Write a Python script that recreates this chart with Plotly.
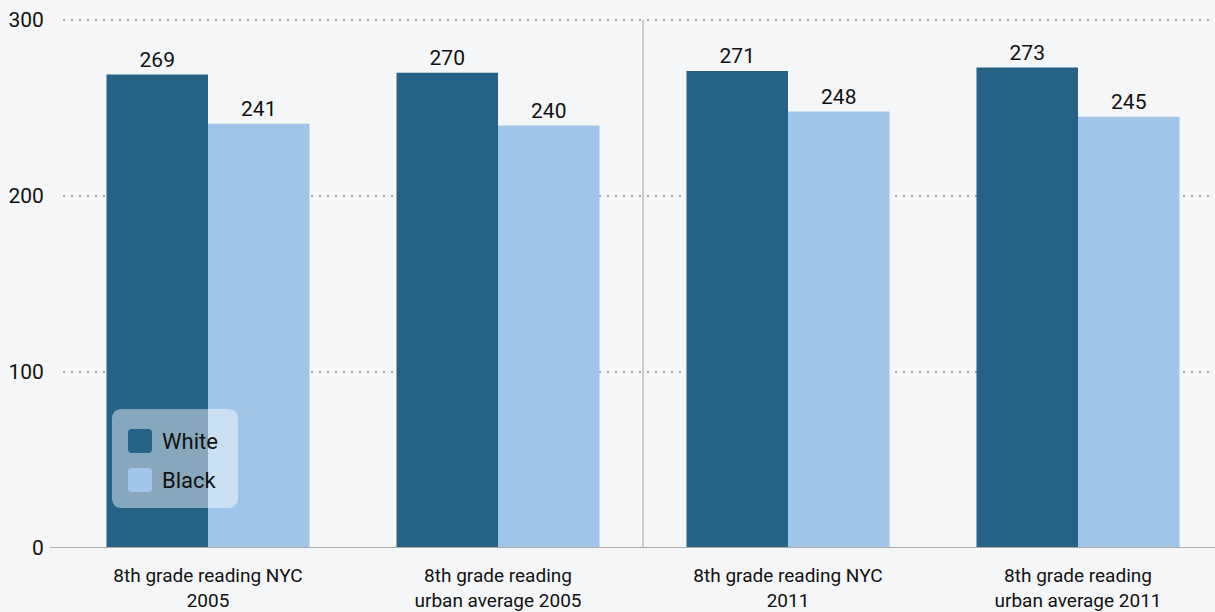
import plotly.graph_objects as go

categories = [
    "8th grade reading NYC<br>2005",
    "8th grade reading<br>urban average 2005",
    "8th grade reading NYC<br>2011",
    "8th grade reading<br>urban average 2011",
]
series_names = ["White", "Black"]
white_values = [269, 270, 271, 273]
black_values = [241, 240, 248, 245]
y_ticks = [0, 100, 200, 300]

W, H = 1215, 612
L, R, T, B = 63, 0, 2, 64
PW, PH = W - L - R, H - T - B
BG = "#f5f6f8"
C_WHITE = "#266285"
C_BLACK = "#9fc5e8"
FONT = "Roboto, Open Sans, sans-serif"

def px(x):
    return (x - L) / PW

def py(y):
    return (H - B - y) / PH

def rounded_path(x0, y0, x1, y1, r):
    def P(x, y):
        return f"{px(x):.5f},{py(y):.5f}"
    return (f"M{P(x0 + r, y0)} L{P(x1 - r, y0)} Q{P(x1, y0)} {P(x1, y0 + r)} "
            f"L{P(x1, y1 - r)} Q{P(x1, y1)} {P(x1 - r, y1)} L{P(x0 + r, y1)} "
            f"Q{P(x0, y1)} {P(x0, y1 - r)} L{P(x0, y0 + r)} Q{P(x0, y0)} {P(x0 + r, y0)} Z")

x_idx = list(range(len(categories)))

fig = go.Figure()
for name, vals, col in [(series_names[0], white_values, C_WHITE),
                        (series_names[1], black_values, C_BLACK)]:
    fig.add_trace(go.Bar(
        x=x_idx, y=vals, name=name, marker=dict(color=col, line=dict(width=0)),
        text=vals, textposition="outside", cliponaxis=False,
        textfont=dict(family=FONT, size=21, color="#111"),
        showlegend=False,
    ))

shapes = [
    dict(type="line", xref="x", yref="y", x0=1.5, x1=1.5, y0=0, y1=300,
         line=dict(color="#cccccc", width=2), layer="below"),
    dict(type="line", xref="paper", yref="y", x0=px(50), x1=1, y0=0, y1=0,
         line=dict(color="#aaaaaa", width=2), layer="above"),
    dict(type="path", xref="paper", yref="paper",
         path=rounded_path(112, 409, 238, 508, 10),
         fillcolor="rgba(255,255,255,0.45)", line=dict(width=0), layer="above"),
]
annotations = []
for i, (name, col) in enumerate(zip(series_names, [C_WHITE, C_BLACK])):
    y0 = 429 + i * 39
    shapes.append(dict(type="path", xref="paper", yref="paper",
                       path=rounded_path(128, y0, 152, y0 + 24, 4),
                       fillcolor=col, line=dict(width=0), layer="above"))
    annotations.append(dict(xref="paper", yref="paper", x=px(160), y=py(y0 + 12),
                            text=name, showarrow=False, xanchor="left", yanchor="middle",
                            font=dict(family=FONT, size=22, color="#111")))

fig.update_layout(
    width=W, height=H,
    margin=dict(l=L, r=R, t=T, b=B, autoexpand=False),
    paper_bgcolor=BG, plot_bgcolor=BG,
    barmode="group", bargap=0.3, bargroupgap=0,
    font=dict(family=FONT, size=21, color="#111"),
    shapes=shapes, annotations=annotations,
    showlegend=False,
)
fig.update_xaxes(
    tickmode="array", tickvals=x_idx, ticktext=categories, automargin=False,
    range=[-0.5, -0.5 + PW / 290], showgrid=False, zeroline=False,
    showline=False, ticks="outside", ticklen=10, tickcolor="rgba(0,0,0,0)",
    tickfont=dict(family=FONT, size=19, color="#111"),
)
fig.update_yaxes(
    range=[0, 300 * PH / 528], tickmode="array", tickvals=y_ticks, automargin=False,
    showgrid=True, gridcolor="#aaaaaa", griddash="2px,6px", gridwidth=2,
    zeroline=False, showline=False,
    ticks="outside", ticklen=14, tickcolor="rgba(0,0,0,0)",
    tickfont=dict(family=FONT, size=21, color="#111"),
)

fig.write_html("out.html", config={"displayModeBar": False},
               post_script="document.body.style.margin='0';document.body.style.background='%s';" % BG)
